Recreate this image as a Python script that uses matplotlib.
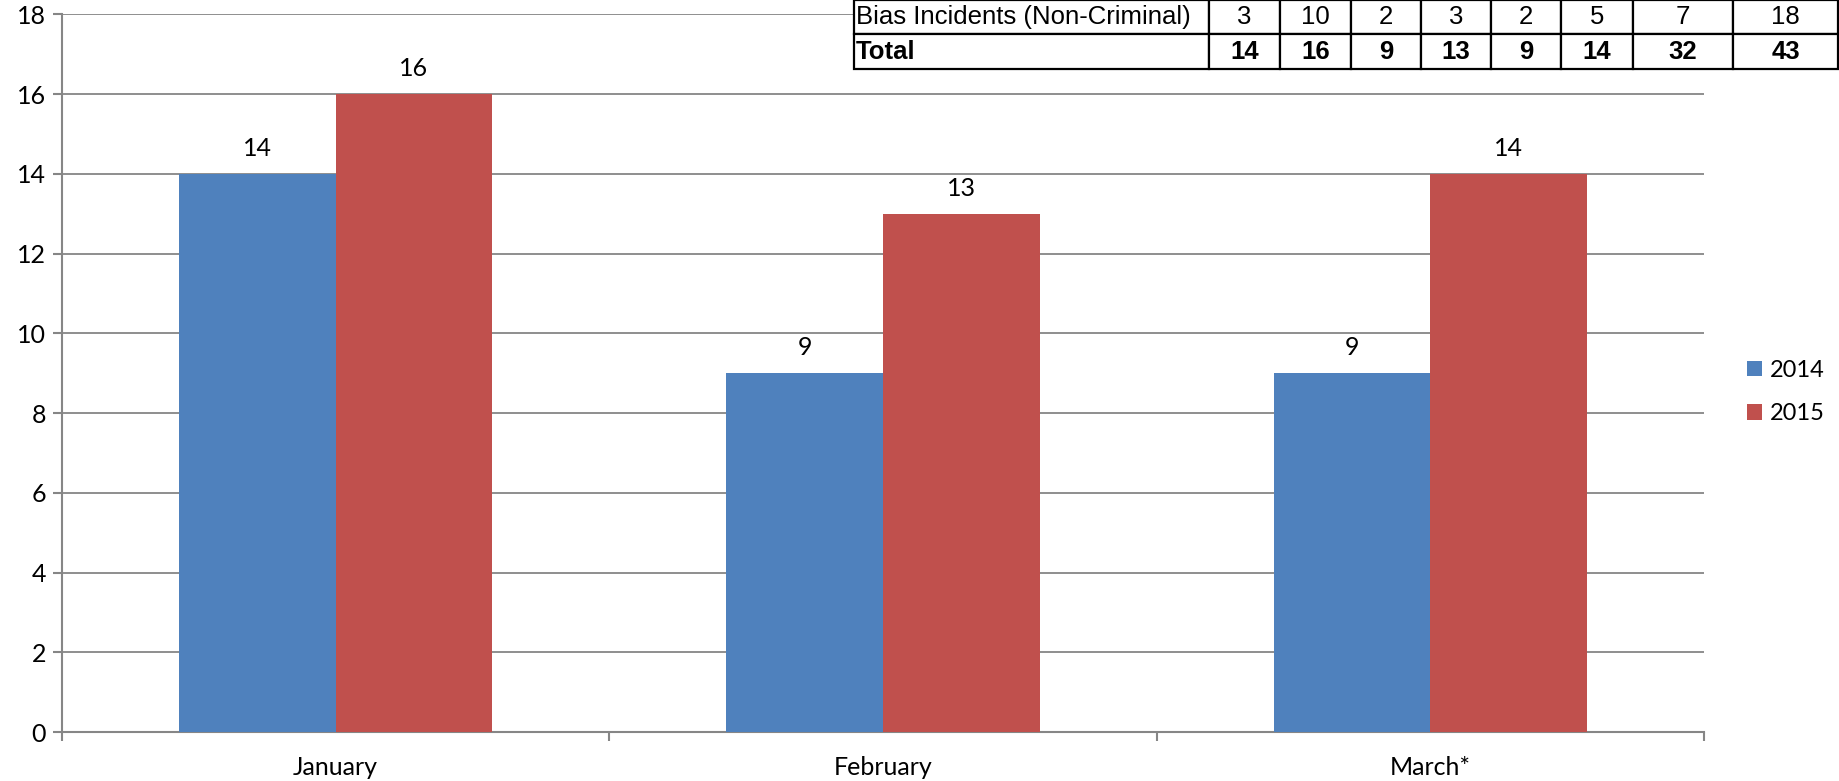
import numpy as np
import matplotlib
matplotlib.use("Agg")
import matplotlib.pyplot as plt

# chart data
months = ["January", "February", "March*"]
vals_2014 = [14, 9, 9]
vals_2015 = [16, 13, 14]
series_names = ["2014", "2015"]

# table data (top right of the chart)
row_labels = ["Bias Incidents (Non-Criminal)", "Total"]
bias_row = ["3", "10", "2", "3", "2", "5", "7", "18"]
total_row = ["14", "16", "9", "13", "9", "14", "32", "43"]

blue = "#4F81BD"
red = "#C0504D"
grey = "#868686"

W, H = 1839, 781
fig = plt.figure(figsize=(W / 100, H / 100), dpi=100)
plt.rcParams['font.family'] = ['Lato', 'DejaVu Sans']

ax = fig.add_axes([62 / W, 49 / H, (1704 - 62) / W, (766.7 - 49) / H])

x = np.arange(len(months))
bw = 0.286
b1 = ax.bar(x - bw / 2, vals_2014, bw, color=blue, label=series_names[0], zorder=3)
b2 = ax.bar(x + bw / 2, vals_2015, bw, color=red, label=series_names[1], zorder=3)

for bars in (b1, b2):
    for r in bars:
        ax.annotate(str(int(r.get_height())),
                    (r.get_x() + r.get_width() / 2, r.get_height()),
                    xytext=(0, 13), textcoords="offset points",
                    ha="center", va="baseline", fontsize=18)

ax.set_ylim(0, 18)
ax.set_yticks(range(0, 19, 2))
ax.set_xlim(-0.5, len(months) - 0.5)
ax.set_xticks(np.arange(-0.5, len(months), 1.0))
ax.set_xticklabels([])
ax.set_xticks(x, minor=True)
ax.set_xticklabels(months, minor=True)
ax.tick_params(axis="x", which="minor", length=0, labelsize=18, pad=17)
ax.tick_params(axis="x", which="major", length=6.5, width=1.5, color=grey)
ax.tick_params(axis="y", length=6.5, width=1.5, color=grey, labelsize=18, pad=5)

ax.grid(axis="y", color=grey, linewidth=1.3, zorder=0)
for side in ("top", "right"):
    ax.spines[side].set_visible(False)
for side in ("left", "bottom"):
    ax.spines[side].set_color(grey)
    ax.spines[side].set_linewidth(1.5)

fig.legend(handles=[b1, b2], loc="center left",
           bbox_to_anchor=(1747 / W, 1 - 392 / H), borderpad=0, borderaxespad=0,
           frameon=False, fontsize=17, handlelength=0.65, handleheight=0.65,
           handletextpad=0.3, labelspacing=0.95)

# table drawn on its own axes
tax = fig.add_axes([854 / W, 1 - 69 / H, (1838 - 854) / W, 69 / H])
tax.axis("off")
col_px = [355, 71, 71, 70, 70, 70, 72, 100, 105]
col_w = [c / sum(col_px) for c in col_px]
cells = [[row_labels[0]] + bias_row, [row_labels[1]] + total_row]
tbl = tax.table(cellText=cells, colWidths=col_w, bbox=[0, 0, 1, 1], cellLoc="center")
tbl.auto_set_font_size(False)
for (r, c), cell in tbl.get_celld().items():
    cell.set_edgecolor("black")
    cell.set_linewidth(1.6)
    txt = cell.get_text()
    txt.set_fontsize(18.5)
    txt.set_fontfamily(["Liberation Sans", "DejaVu Sans"])
    if r == 1:
        txt.set_fontweight("bold")
    if c == 0:
        cell.set_text_props(ha="left")
        cell.PAD = 0.006

fig.savefig("out.png", dpi=100)
